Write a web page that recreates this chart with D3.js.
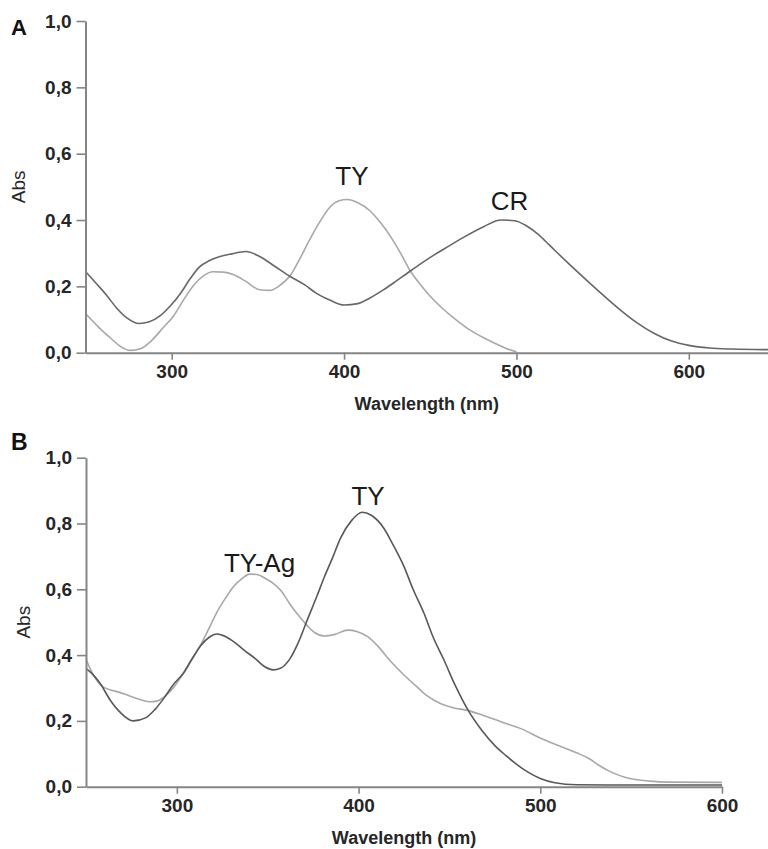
<!DOCTYPE html>
<html>
<head>
<meta charset="utf-8">
<script src="https://cdn.jsdelivr.net/npm/d3@7"></script>
<style>
  body { margin: 0; background: #fff; }
  svg { display: block; }
</style>
</head>
<body>
<div id="chart"></div>
<script>
// DATA
// Panel A: TY (light) and CR (dark)
const tyA_nm = [250, 258, 265, 270, 276, 282, 288, 295, 301, 307, 313, 318, 324, 330, 336, 343, 351, 357, 362, 369, 375, 380, 386, 392, 397, 402, 408, 415, 421, 427, 433, 438, 444, 450, 457, 465, 472, 481, 488, 494, 500];
const tyA_abs = [0.118, 0.075, 0.042, 0.02, 0.007, 0.012, 0.035, 0.075, 0.11, 0.16, 0.205, 0.23, 0.244, 0.243, 0.235, 0.215, 0.19, 0.188, 0.2, 0.234, 0.29, 0.34, 0.395, 0.44, 0.458, 0.462, 0.452, 0.428, 0.393, 0.35, 0.298, 0.25, 0.207, 0.17, 0.134, 0.099, 0.072, 0.045, 0.027, 0.013, 0.003];

const crA_nm = [250, 256, 262, 268, 274, 281, 287, 293, 299, 305, 311, 316, 322, 328, 335, 343, 351, 360, 369, 377, 384, 392, 400, 408, 415, 423, 430, 437, 445, 453, 461, 470, 481, 491, 499, 506, 513, 519, 530, 540, 550, 560, 570, 580, 590, 600, 612, 625, 650];
const crA_abs = [0.245, 0.21, 0.175, 0.135, 0.105, 0.088, 0.093, 0.11, 0.14, 0.178, 0.225, 0.258, 0.278, 0.29, 0.298, 0.305, 0.29, 0.26, 0.229, 0.205, 0.179, 0.158, 0.144, 0.148, 0.165, 0.19, 0.215, 0.241, 0.27, 0.297, 0.322, 0.35, 0.38, 0.4, 0.398, 0.382, 0.355, 0.325, 0.27, 0.222, 0.175, 0.13, 0.09, 0.058, 0.035, 0.022, 0.014, 0.011, 0.009];

// Panel B: TY-Ag (light) and TY (dark)
const agB_nm = [250, 254, 258, 263, 267, 272, 276, 281, 285, 289, 293, 298, 303, 308, 313, 318, 322, 327, 331, 336, 340, 344, 349, 353, 357, 362, 367, 372, 376, 381, 387, 394, 399, 405, 411, 417, 424, 432, 438, 445, 452, 460, 468, 478, 490, 500, 510, 520, 527, 532, 540, 547, 560, 572, 600];
const agB_abs = [0.387, 0.34, 0.309, 0.295, 0.289, 0.28, 0.272, 0.263, 0.258, 0.26, 0.273, 0.3, 0.34, 0.385, 0.43, 0.485, 0.53, 0.575, 0.607, 0.633, 0.646, 0.645, 0.632, 0.618, 0.598, 0.557, 0.52, 0.488, 0.468, 0.458, 0.463, 0.476, 0.472, 0.456, 0.425, 0.385, 0.345, 0.304, 0.275, 0.253, 0.24, 0.232, 0.218, 0.198, 0.175, 0.148, 0.125, 0.103, 0.085, 0.066, 0.042, 0.028, 0.017, 0.014, 0.013];

const tyB_nm = [250, 254, 258, 263, 269, 276, 283, 288, 293, 298, 304, 308, 313, 318, 322, 327, 332, 337, 343, 348, 353, 357, 362, 367, 372, 377, 381, 386, 390, 396, 402, 407, 414, 419, 425, 430, 436, 441, 447, 453, 460, 468, 475, 481, 487, 493, 500, 508, 520, 550, 600];
const tyB_abs = [0.36, 0.34, 0.312, 0.266, 0.225, 0.2, 0.21, 0.235, 0.27, 0.31, 0.348, 0.385, 0.428, 0.455, 0.464, 0.456, 0.438, 0.415, 0.39, 0.366, 0.355, 0.36, 0.387, 0.44, 0.51, 0.578, 0.635, 0.7, 0.755, 0.808, 0.834, 0.825, 0.785, 0.735, 0.669, 0.6, 0.527, 0.455, 0.385, 0.31, 0.235, 0.17, 0.125, 0.095, 0.068, 0.045, 0.025, 0.012, 0.006, 0.005, 0.005];

const xTicks = [300, 400, 500, 600];
const yTicks = [0, 0.2, 0.4, 0.6, 0.8, 1.0];

const lightGray = "#a8a8a8";
const darkGray = "#676767";
const axisGray = "#858585";
const font = "'Liberation Sans', Arial, sans-serif";

const width = 768;
const height = 849;

const svg = d3
  .select("#chart")
  .append("svg")
  .attr("width", width)
  .attr("height", height);

const zip = (xs, ys) => xs.map((x, i) => ({ x: x, y: ys[i] }));

const panels = [
  {
    letter: "A",
    letterY: 35,
    letterSize: 22,
    absX: 25,
    xDomain: [250, 650],
    xRange: [85.5, 775],
    yRange: [352.7, 21],
    series: [
      { data: zip(tyA_nm, tyA_abs), color: lightGray },
      { data: zip(crA_nm, crA_abs), color: darkGray },
    ],
    labels: [
      { text: "TY", nm: 404.6, abs: 0.506 },
      { text: "CR", nm: 496, abs: 0.43 },
    ],
  },
  {
    letter: "B",
    letterY: 450,
    letterSize: 23,
    absX: 30,
    xDomain: [250, 600],
    xRange: [86, 722],
    yRange: [786.7, 457.7],
    series: [
      { data: zip(agB_nm, agB_abs), color: lightGray },
      { data: zip(tyB_nm, tyB_abs), color: "#585858" },
    ],
    labels: [
      { text: "TY", nm: 405.2, abs: 0.856 },
      { text: "TY-Ag", nm: 345.5, abs: 0.653 },
    ],
  },
];

const formatTick = (d) => d3.format(".1f")(d).replace(".", ",");

panels.forEach((p) => {
  const x = d3.scaleLinear().domain(p.xDomain).range(p.xRange);
  const y = d3.scaleLinear().domain([0, 1]).range(p.yRange);
  const g = svg.append("g");

  // curves
  const line = d3
    .line()
    .x((d) => x(d.x))
    .y((d) => y(d.y))
    .curve(d3.curveMonotoneX);

  p.series.forEach((s) => {
    g.append("path")
      .datum(s.data)
      .attr("fill", "none")
      .attr("stroke", s.color)
      .attr("stroke-width", 1.6)
      .attr("d", line);
  });

  // x axis
  const xAxis = g
    .append("g")
    .attr("transform", `translate(0,${p.yRange[0]})`)
    .call(d3.axisBottom(x).tickValues(xTicks).tickSize(7).tickSizeOuter(0).tickPadding(5));

  // y axis
  const yAxis = g
    .append("g")
    .attr("transform", `translate(${p.xRange[0]},0)`)
    .call(d3.axisLeft(y).tickValues(yTicks).tickFormat(formatTick).tickSize(9).tickSizeOuter(0).tickPadding(5));

  [xAxis, yAxis].forEach((a) => {
    a.select(".domain").attr("stroke", axisGray).attr("stroke-width", 2);
    a.selectAll(".tick line").attr("stroke", axisGray).attr("stroke-width", 1.6);
    a.selectAll(".tick text")
      .attr("fill", "#262626")
      .style("font-family", font)
      .style("font-size", "19px")
      .style("font-weight", "bold");
  });

  // axis titles
  g.append("text")
    .attr("x", (p.xRange[0] + Math.min(p.xRange[1], width)) / 2)
    .attr("y", p.yRange[0] + 57)
    .attr("text-anchor", "middle")
    .style("font-family", font)
    .style("font-size", "18px")
    .style("font-weight", "bold")
    .attr("fill", "#262626")
    .text("Wavelength (nm)");

  g.append("text")
    .attr("transform", `translate(${p.absX},${(p.yRange[0] + p.yRange[1]) / 2}) rotate(-90)`)
    .attr("text-anchor", "middle")
    .style("font-family", font)
    .style("font-size", "19px")
    .attr("fill", "#262626")
    .text("Abs");

  // panel letter
  g.append("text")
    .attr("x", 11)
    .attr("y", p.letterY)
    .style("font-family", font)
    .style("font-size", p.letterSize + "px")
    .style("font-weight", "bold")
    .attr("fill", "#111")
    .text(p.letter);

  // curve labels
  g.selectAll(".lbl")
    .data(p.labels)
    .enter()
    .append("text")
    .attr("x", (d) => x(d.nm))
    .attr("y", (d) => y(d.abs))
    .attr("text-anchor", "middle")
    .style("font-family", font)
    .style("font-size", "26px")
    .attr("fill", "#1a1a1a")
    .text((d) => d.text);
});
</script>
</body>
</html>
